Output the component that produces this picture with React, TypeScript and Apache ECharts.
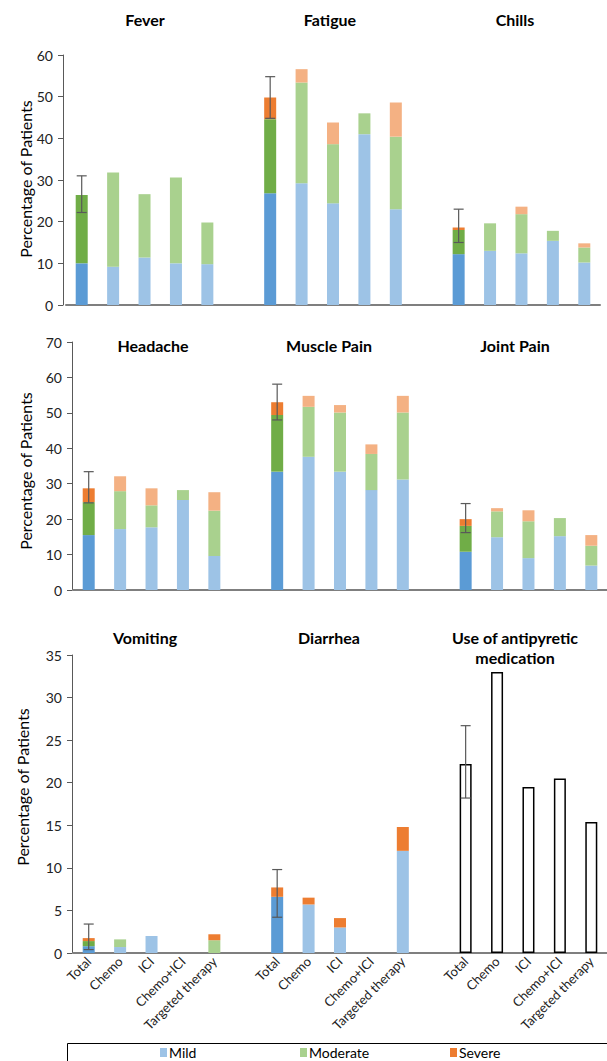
import React, { useEffect, useRef } from "react";
import * as echarts from "echarts";

// ---------- Data ----------
const treatments = ["Total", "Chemo", "ICI", "Chemo+ICI", "Targeted therapy"];

const panel1Titles = ["Fever", "Fatigue", "Chills"];
const panel2Titles = ["Headache", "Muscle Pain", "Joint Pain"];
const panel3Titles = ["Vomiting", "Diarrhea", "Use of antipyretic\nmedication"];

// segment heights (% of patients): Total, Chemo, ICI, Chemo+ICI, Targeted therapy
const feverMild = [10.0, 9.2, 11.4, 10.0, 9.8];
const feverModerate = [16.4, 22.6, 15.2, 20.6, 10.0];
const feverSevere = [0, 0, 0, 0, 0];
const feverError = [22.2, 31.0];

const fatigueMild = [26.8, 29.2, 24.4, 41.0, 23.0];
const fatigueModerate = [17.8, 24.2, 14.2, 5.0, 17.4];
const fatigueSevere = [5.2, 3.2, 5.2, 0, 8.2];
const fatigueError = [44.8, 54.8];

const chillsMild = [12.2, 13.0, 12.4, 15.4, 10.2];
const chillsModerate = [5.8, 6.6, 9.4, 2.4, 3.6];
const chillsSevere = [0.6, 0, 1.8, 0, 1.0];
const chillsError = [15.0, 23.0];

const headacheMild = [15.5, 17.2, 17.7, 25.4, 9.6];
const headacheModerate = [9.3, 10.7, 6.2, 2.8, 12.8];
const headacheSevere = [3.9, 4.2, 4.8, 0, 5.2];
const headacheError = [24.6, 33.4];

const musclePainMild = [33.4, 37.6, 33.4, 28.2, 31.2];
const musclePainModerate = [16.0, 14.1, 16.7, 10.2, 18.9];
const musclePainSevere = [3.6, 3.1, 2.1, 2.7, 4.7];
const musclePainError = [48.0, 58.1];

const jointPainMild = [10.8, 14.9, 9.0, 15.2, 6.9];
const jointPainModerate = [7.3, 7.3, 10.4, 5.1, 5.6];
const jointPainSevere = [1.9, 0.9, 3.1, 0, 3.0];
const jointPainError = [16.2, 24.4];

const vomitingMild = [0.8, 0.7, 2.0, 0, 0];
const vomitingModerate = [0.6, 0.9, 0, 0, 1.5];
const vomitingSevere = [0.35, 0, 0, 0, 0.7];
const vomitingError = [0.4, 3.4];

const diarrheaMild = [6.6, 5.7, 3.0, 0, 12.0];
const diarrheaModerate = [0, 0, 0, 0, 0];
const diarrheaSevere = [1.1, 0.8, 1.1, 0, 2.8];
const diarrheaError = [4.2, 9.8];

const antipyreticUse = [22.2, 33.0, 19.5, 20.5, 15.4];
const antipyreticError = [18.2, 26.7];

const legendLabels = ["Mild", "Moderate", "Severe"];

// ---------- Styles ----------
const FONT = "Lato, 'Open Sans', sans-serif";
const totalColors = ["#5B9BD5", "#70AD47", "#ED7D31"];
const otherColors = ["#9DC3E6", "#A9D18E", "#F4B183"];
const otherColorsP3 = ["#9DC3E6", "#A9D18E", "#ED7D31"];

type Panel = {
  titles: string[];
  levels: (number[] | null)[][];
  errors: (number[] | null)[];
  hollow: number[] | null;
  hollowError: number[] | null;
  yMax: number;
  yInterval: number;
  grid: { left: number; top: number; width: number; height: number };
  offset: number;
  colors: string[];
  showX: boolean;
  titlePos: { x: number; y: number }[];
  yName: { x: number; y: number };
};

const panels: Panel[] = [
  {
    titles: panel1Titles,
    levels: [
      [feverMild, fatigueMild, chillsMild],
      [feverModerate, fatigueModerate, chillsModerate],
      [feverSevere, fatigueSevere, chillsSevere],
    ],
    errors: [feverError, fatigueError, chillsError],
    hollow: null,
    hollowError: null,
    yMax: 60,
    yInterval: 10,
    grid: { left: 66, top: 55, width: 534, height: 250 },
    offset: 3,
    colors: otherColors,
    showX: false,
    titlePos: [{ x: 145, y: 19 }, { x: 330, y: 19 }, { x: 515, y: 19 }],
    yName: { x: 25, y: 179 },
  },
  {
    titles: panel2Titles,
    levels: [
      [headacheMild, musclePainMild, jointPainMild],
      [headacheModerate, musclePainModerate, jointPainModerate],
      [headacheSevere, musclePainSevere, jointPainSevere],
    ],
    errors: [headacheError, musclePainError, jointPainError],
    hollow: null,
    hollowError: null,
    yMax: 70,
    yInterval: 10,
    grid: { left: 73, top: 342, width: 535, height: 248 },
    offset: 1,
    colors: otherColors,
    showX: false,
    titlePos: [{ x: 153, y: 345 }, { x: 329, y: 345 }, { x: 515, y: 345 }],
    yName: { x: 25, y: 471 },
  },
  {
    titles: panel3Titles,
    levels: [
      [vomitingMild, diarrheaMild, null],
      [vomitingModerate, diarrheaModerate, null],
      [vomitingSevere, diarrheaSevere, null],
    ],
    errors: [vomitingError, diarrheaError, null],
    hollow: antipyreticUse,
    hollowError: antipyreticError,
    yMax: 35,
    yInterval: 5,
    grid: { left: 73, top: 655, width: 535, height: 298 },
    offset: 1,
    colors: otherColorsP3,
    showX: true,
    titlePos: [{ x: 145, y: 637 }, { x: 329, y: 637 }, { x: 515, y: 647 }],
    yName: { x: 22, y: 787 },
  },
];

const categories = [...treatments, "", ...treatments, "", ...treatments];

function toSlots(groups: (number[] | null)[]) {
  const out: (number | null)[] = [];
  groups.forEach((vals, g) => {
    if (g > 0) out.push(null);
    for (let i = 0; i < 5; i++) out.push(vals ? vals[i] : null);
  });
  return out;
}

function buildOption() {
  const grid: any[] = [];
  const xAxis: any[] = [];
  const yAxis: any[] = [];
  const series: any[] = [];
  const graphic: any[] = [];

  panels.forEach((p, pi) => {
    grid.push({ ...p.grid, containLabel: false });
    xAxis.push({
      type: "category",
      gridIndex: pi,
      data: categories,
      axisLine: { lineStyle: { color: "#7F7F7F", width: 2 } },
      axisTick: { show: false },
      axisLabel: p.showX
        ? { show: true, interval: 0, rotate: 45, fontFamily: FONT, fontSize: 13, color: "#222", margin: 6 }
        : { show: false },
      splitLine: { show: false },
    });
    yAxis.push({
      type: "value",
      gridIndex: pi,
      min: 0,
      max: p.yMax,
      interval: p.yInterval,
      offset: p.offset,
      axisLine: { show: true, lineStyle: { color: "#595959", width: 1 } },
      axisTick: { show: true, length: 5, lineStyle: { color: "#595959" } },
      axisLabel: { fontFamily: FONT, fontSize: 14, color: "#222", margin: 10 },
      splitLine: { show: false },
    });

    p.levels.forEach((levelGroups, li) => {
      const vals = toSlots(levelGroups);
      series.push({
        name: legendLabels[li],
        type: "bar",
        xAxisIndex: pi,
        yAxisIndex: pi,
        stack: "s" + pi,
        barWidth: 12,
        itemStyle: { color: p.colors[li] },
        data: vals.map((v, idx) =>
          v == null
            ? null
            : idx % 6 === 0
            ? { value: v, itemStyle: { color: totalColors[li] } }
            : v
        ),
      });
    });

    if (p.hollow) {
      series.push({
        name: "Use of antipyretic medication",
        type: "bar",
        xAxisIndex: pi,
        yAxisIndex: pi,
        stack: "s" + pi,
        barWidth: 12,
        itemStyle: { color: "#FFFFFF", borderColor: "#000000", borderWidth: 1.5 },
        data: toSlots([null, null, p.hollow]),
      });
    }

    const errData: number[][] = [];
    p.errors.forEach((e, g) => {
      if (e) errData.push([g * 6, e[0], e[1]]);
    });
    if (p.hollowError) errData.push([12, p.hollowError[0], p.hollowError[1]]);

    series.push({
      type: "custom",
      name: "error",
      xAxisIndex: pi,
      yAxisIndex: pi,
      z: 5,
      encode: { x: 0, y: [1, 2] },
      data: errData,
      renderItem: (params: any, api: any) => {
        const x = api.value(0);
        const lo = api.coord([x, api.value(1)]);
        const hi = api.coord([x, api.value(2)]);
        const w = 5;
        const st = { stroke: "#595959", lineWidth: 1.2 };
        return {
          type: "group",
          children: [
            { type: "line", shape: { x1: lo[0], y1: lo[1], x2: hi[0], y2: hi[1] }, style: st },
            { type: "line", shape: { x1: lo[0] - w, y1: lo[1], x2: lo[0] + w, y2: lo[1] }, style: st },
            { type: "line", shape: { x1: hi[0] - w, y1: hi[1], x2: hi[0] + w, y2: hi[1] }, style: st },
          ],
        };
      },
    });

    p.titles.forEach((t, ti) => {
      graphic.push({
        type: "text",
        x: p.titlePos[ti].x,
        y: p.titlePos[ti].y,
        style: {
          text: t,
          fontFamily: FONT,
          fontWeight: "bold",
          fontSize: 16,
          lineHeight: 20,
          fill: "#000",
          align: "center",
          verticalAlign: "middle",
        },
      });
    });

    graphic.push({
      type: "text",
      x: p.yName.x,
      y: p.yName.y,
      rotation: Math.PI / 2,
      style: {
        text: "Percentage of Patients",
        fontFamily: FONT,
        fontSize: 16,
        fill: "#000",
        align: "center",
        verticalAlign: "middle",
      },
    });
  });

  // Legend box
  graphic.push({
    type: "rect",
    shape: { x: 67.5, y: 1043.5, width: 560, height: 40 },
    style: { fill: "none", stroke: "#000", lineWidth: 1 },
  });
  const legendX = [160, 300, 450];
  const legendColors = ["#9DC3E6", "#A9D18E", "#ED7D31"];
  legendLabels.forEach((l, i) => {
    graphic.push({
      type: "rect",
      shape: { x: legendX[i], y: 1048, width: 7, height: 9 },
      style: { fill: legendColors[i] },
    });
    graphic.push({
      type: "text",
      x: legendX[i] + 9,
      y: 1052,
      style: { text: l, fontFamily: FONT, fontSize: 14, fill: "#000", align: "left", verticalAlign: "middle" },
    });
  });

  return {
    animation: false,
    backgroundColor: "#FFFFFF",
    grid,
    xAxis,
    yAxis,
    series,
    graphic,
  };
}

export default function App() {
  const ref = useRef<HTMLDivElement>(null);
  useEffect(() => {
    if (!ref.current) return;
    const chart = echarts.init(ref.current, undefined, { renderer: "svg" });
    chart.setOption(buildOption() as any);
    return () => chart.dispose();
  }, []);
  return (
    <div
      ref={ref}
      style={{ position: "fixed", left: 0, top: 0, width: 607, height: 1061, background: "#fff" }}
    />
  );
}
